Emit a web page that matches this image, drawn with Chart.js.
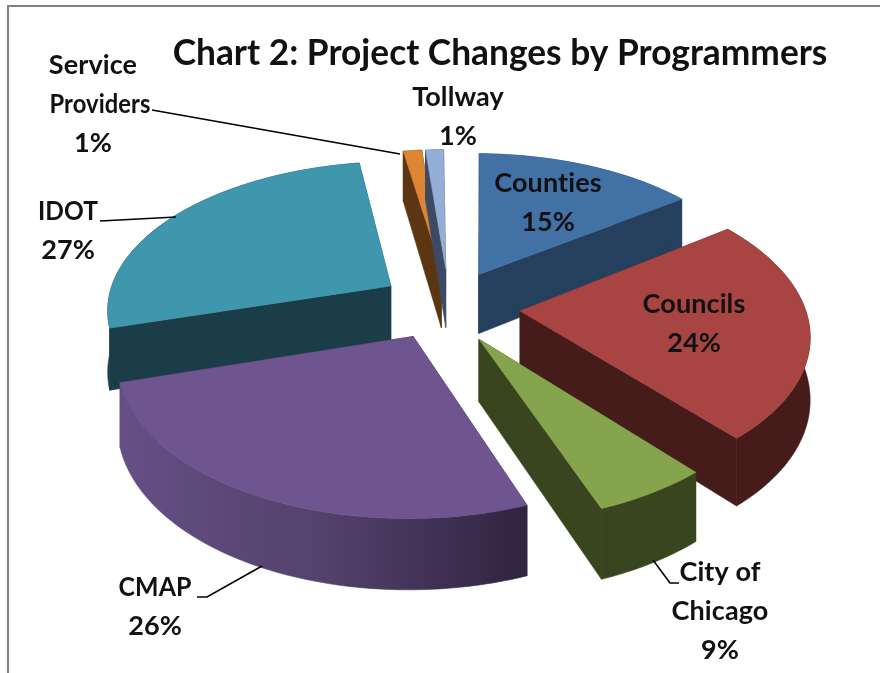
<!DOCTYPE html>
<html><head><meta charset="utf-8">
<style>html,body{margin:0;padding:0;background:#fff}#w{position:absolute;left:0;top:0;width:880px;height:673px}</style>
<script src="https://cdn.jsdelivr.net/npm/chart.js@4"></script></head>
<body><div id="w"><canvas id="c" width="880" height="673"></canvas></div>
<script>
const categories=['Counties','Councils','City of Chicago','CMAP','IDOT','Service Providers','Tollway'];
const shares=[15,24,9,26,27,1,1];
const colours=['#4271a6','#a84442','#86a44e','#6f5590','#3f97ae','#db8535','#94aed6'];
const darks=['#25405f','#451c1a','#38451f','#3b2d4f','#1b3d48','#5c3513','#3c4a63'];
const offsets=[72,72,64,62,72,76,76];
const labelLines=[['Counties','15%'],['Councils','24%'],['City of','Chicago','9%'],['CMAP','26%'],['IDOT','27%'],['Service','Providers','1%'],['Tollway','1%']];
const labelAnchors=[[548,183],[694,304],[720,572],[155,587],[68,211],[93,65],[458,97]];
const labelFit={Providers:{dx:7,w:101},IDOT:{dx:0,w:60},CMAP:{dx:0,w:73}};
const leaders=[null,null,[[679,583],[670,583],[653,560]],[[197,597],[207,597],[262,566]],[[100,221],[176,217]],[[152,110],[400,154]],null];
const VIEW={cx:448,cy:308,radius:285,ky:0.535,persp:0.0005,depth:61};
/* the drawn 3D view distorts apparent angles: [centre deg, shift deg, spread deg] */
const VIEW_WARP=[[0,1,10],[100,4,60],[150,-1.5,12],[172,-11,12],[255,-5,16],[350,-3,8]];
const RAD=Math.PI/180;
function proj(x,y,z){const s=1+y*VIEW.persp;return [VIEW.cx+x*s,VIEW.cy+y*VIEW.ky*s+z*VIEW.depth*s];}
function viewAngle(a){const deg=a/RAD+90;let sh=0;VIEW_WARP.forEach(([c,h,w])=>{const d=(deg-c)/w;sh+=h*Math.exp(-d*d);});return a+sh*RAD;}
function slicePts(el,off){const a0=el.startAngle,a1=el.endAngle,m=(a0+a1)/2,R=VIEW.radius,ox=Math.cos(m)*off,oy=Math.sin(m)*off;
 const rim=[];const n=Math.max(4,Math.ceil((a1-a0)*40));for(let i=0;i<=n;i++){const a=viewAngle(a0+(a1-a0)*i/n);rim.push([ox+Math.cos(a)*R,oy+Math.sin(a)*R]);}
 return {apex:[ox,oy],rim};}
function poly(ctx,pts,fill){ctx.beginPath();pts.forEach((p,i)=>i?ctx.lineTo(p[0],p[1]):ctx.moveTo(p[0],p[1]));ctx.closePath();ctx.fillStyle=fill;ctx.fill();ctx.strokeStyle=fill;ctx.lineWidth=.6;ctx.stroke();}
const pie3d={id:'pie3d',
 beforeDatasetsDraw(chart){const ctx=chart.ctx,els=chart.getDatasetMeta(0).data;
  const order=[5,6,4,0,1,3,2];
  order.forEach(i=>{const el=els[i],g=slicePts(el,offsets[i]),A=g.apex,dark=darks[i];
   const top=[proj(A[0],A[1],0),...g.rim.map(p=>proj(p[0],p[1],0))];
   const botApex=proj(A[0],A[1],1);
   const first=g.rim[0],last=g.rim[g.rim.length-1];
   poly(ctx,[proj(A[0],A[1],0),proj(first[0],first[1],0),proj(first[0],first[1],1),botApex],dark);
   poly(ctx,[proj(A[0],A[1],0),proj(last[0],last[1],0),proj(last[0],last[1],1),botApex],dark);
   const wallTop=g.rim.map(p=>proj(p[0],p[1],0)),wallBot=g.rim.map(p=>proj(p[0],p[1],1)).reverse();
   let wf=dark;
   if(i===3){const L=wallTop[wallTop.length-1],Rr=wallTop[0];wf=ctx.createLinearGradient(L[0],0,Rr[0],0);wf.addColorStop(0,'#654f85');wf.addColorStop(.5,'#54416c');wf.addColorStop(1,'#2f2440');}
   poly(ctx,[...wallTop,...wallBot],wf);
   poly(ctx,top,colours[i]);
  });
  return false;},
 afterDraw(chart){const ctx=chart.ctx;
  ctx.strokeStyle='#000';ctx.lineWidth=1.6;
  leaders.forEach(l=>{if(!l)return;ctx.beginPath();l.forEach((p,i)=>i?ctx.lineTo(p[0],p[1]):ctx.moveTo(p[0],p[1]));ctx.stroke();});
  ctx.fillStyle='#111';ctx.font='bold 27px Lato';ctx.letterSpacing='0.1px';ctx.textAlign='center';ctx.textBaseline='middle';
  labelLines.forEach((ls,i)=>{const c=labelAnchors[i];ls.forEach((t,j)=>{const f=labelFit[t];
    if(f)ctx.fillText(t,c[0]+f.dx,c[1]+j*39,f.w);else ctx.fillText(t,c[0],c[1]+j*39);});});
  ctx.letterSpacing='0px';
  ctx.strokeStyle='#808080';ctx.lineWidth=2;ctx.beginPath();ctx.moveTo(8,673);ctx.lineTo(8,6);ctx.lineTo(880,6);ctx.stroke();
 }};
new Chart(document.getElementById('c'),{type:'pie',
 data:{labels:categories,datasets:[{data:shares,backgroundColor:colours,offset:offsets,borderWidth:0}]},
 options:{responsive:false,animation:false,rotation:0,layout:{padding:{top:26,left:120}},
  plugins:{legend:{display:false},tooltip:{enabled:false},
   title:{display:true,text:'Chart 2: Project Changes by Programmers',color:'#111',font:{family:'Lato',size:35.3,weight:'bold'},padding:{top:6,bottom:6}}}},
 plugins:[pie3d]});
</script></body></html>
